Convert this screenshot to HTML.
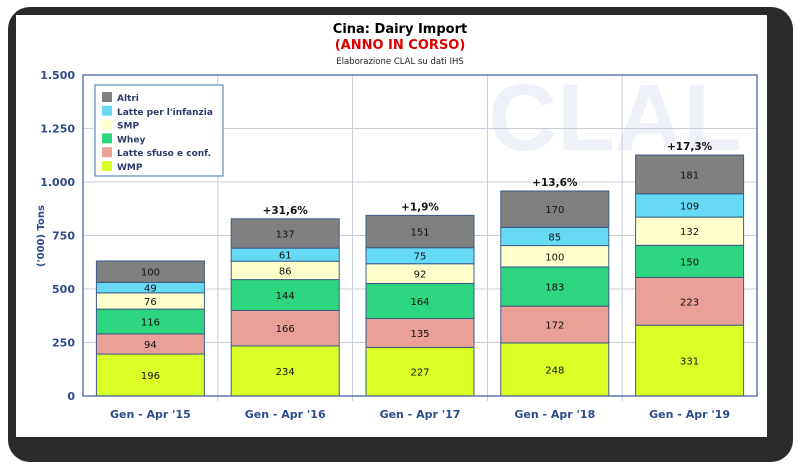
<!DOCTYPE html>
<html><head><meta charset="utf-8"><style>
body{margin:0;width:800px;height:469px;background:#fff;overflow:hidden;font-family:"DejaVu Sans","Liberation Sans",sans-serif}
</style></head><body>
<svg width="800" height="469" xmlns="http://www.w3.org/2000/svg">
<rect x="8" y="7" width="785" height="455" rx="22" fill="#2b2b2b"/>
<rect x="16" y="15" width="751" height="422" fill="#fff"/>
<text x="615" y="150" font-size="95" font-weight="bold" fill="#eef1f8" text-anchor="middle" font-family="Liberation Sans,sans-serif">CLAL</text>
<text x="400" y="33" font-size="13" font-weight="bold" text-anchor="middle" fill="#000">Cina: Dairy Import</text>
<text x="400" y="49" font-size="13" font-weight="bold" text-anchor="middle" fill="#e00000">(ANNO IN CORSO)</text>
<text x="400" y="64" font-size="8.5" text-anchor="middle" fill="#222">Elaborazione CLAL su dati IHS</text>
<text transform="translate(44,236) rotate(-90)" font-size="10" font-weight="bold" text-anchor="middle" fill="#2d4a8a">('000) Tons</text>
<g id="grid"></g>
<g id="bars"></g>
<rect x="83" y="75" width="674" height="321" fill="none" stroke="#3a55a0" stroke-width="1.2"/>
<g id="legend"></g>
</svg>
<script>
const categories=["Gen - Apr '15","Gen - Apr '16","Gen - Apr '17","Gen - Apr '18","Gen - Apr '19"];
const seriesNames=["WMP","Latte sfuso e conf.","Whey","SMP","Latte per l'infanzia","Altri"];
const wmp=[196,234,227,248,331];
const latteSfuso=[94,166,135,172,223];
const whey=[116,144,164,183,150];
const smp=[76,86,92,100,132];
const latteInfanzia=[49,61,75,85,109];
const altri=[100,137,151,170,181];
const growthLabels=["","+31,6%","+1,9%","+13,6%","+17,3%"];
const yTicks=[0,250,500,750,1000,1250,1500];
const yTickLabels=["0","250","500","750","1.000","1.250","1.500"];
const colors=["#d9ff26","#e8a097","#2dd67e","#ffffcc","#66d9f5","#808080"];
const series=[wmp,latteSfuso,whey,smp,latteInfanzia,altri];
const NS="http://www.w3.org/2000/svg";
const X0=83,X1=757,Y0=396,Y1=75,YMAX=1500;
const y=v=>Y0-(v/YMAX)*(Y0-Y1);
const bw=(X1-X0)/categories.length;
const xc=i=>X0+bw*(i+0.5);
function mk(tag,attrs,parent){const e=document.createElementNS(NS,tag);for(const k in attrs)e.setAttribute(k,attrs[k]);parent.appendChild(e);return e;}
const grid=document.getElementById('grid'),bars=document.getElementById('bars'),svg=document.querySelector('svg');
yTicks.forEach((t,i)=>{
 const l=mk('line',{x1:X0,x2:X1,y1:y(t),y2:y(t),stroke:'#c8ccd8','stroke-width':1},grid);
 
 
 const tx=mk('text',{x:X0-8,y:y(t)+4,'font-size':11,'font-weight':'bold','text-anchor':'end',fill:'#2d4a8a'},svg);
 tx.textContent=yTickLabels[i];
 
 
});
for(let i=1;i<categories.length;i++){
 const l=mk('line',{x1:X0+bw*i,x2:X0+bw*i,y1:Y1,y2:Y0+5,stroke:'#c8ccd8','stroke-width':1},grid);
 
 
}
categories.forEach((c,i)=>{
 let acc=0;const w=108,x=xc(i)-w/2;
 series.forEach((s,k)=>{
  const v=s[i];
  const r=mk('rect',{x:x,y:y(acc+v),width:w,height:y(acc)-y(acc+v),fill:colors[k],stroke:'#3c5c86','stroke-width':1},bars);
  
  
  const t=mk('text',{x:xc(i),y:(y(acc)+y(acc+v))/2+4,'font-size':10,'text-anchor':'middle',fill:'#111'},bars);
  t.textContent=v;
  
  
  acc+=v;
 });
 if(growthLabels[i]){
  const g=mk('text',{x:xc(i),y:y(acc)-5,'font-size':10.5,'font-weight':'bold','text-anchor':'middle',fill:'#111'},bars);
  g.textContent=growthLabels[i];
  
  
 }
 const ct=mk('text',{x:xc(i),y:418,'font-size':11,'font-weight':'bold','text-anchor':'middle',fill:'#2d4a8a'},svg);
 ct.textContent=c;
 
 
});
const lg=document.getElementById('legend');
mk('rect',{x:95,y:85,width:128,height:91,fill:'#fff',stroke:'#3a7aa8','stroke-width':1},lg);
for(let k=5;k>=0;k--){
 const row=5-k,yy=92+row*13.8;
 const sw=mk('rect',{x:102,y:yy,width:10,height:10,fill:colors[k],rx:1},lg);
 
 
 const t=mk('text',{x:117,y:yy+9,'font-size':9,'font-weight':'bold',fill:'#2d3a6a'},lg);
 t.textContent=seriesNames[k];
 
 
}
</script>
</body></html>
